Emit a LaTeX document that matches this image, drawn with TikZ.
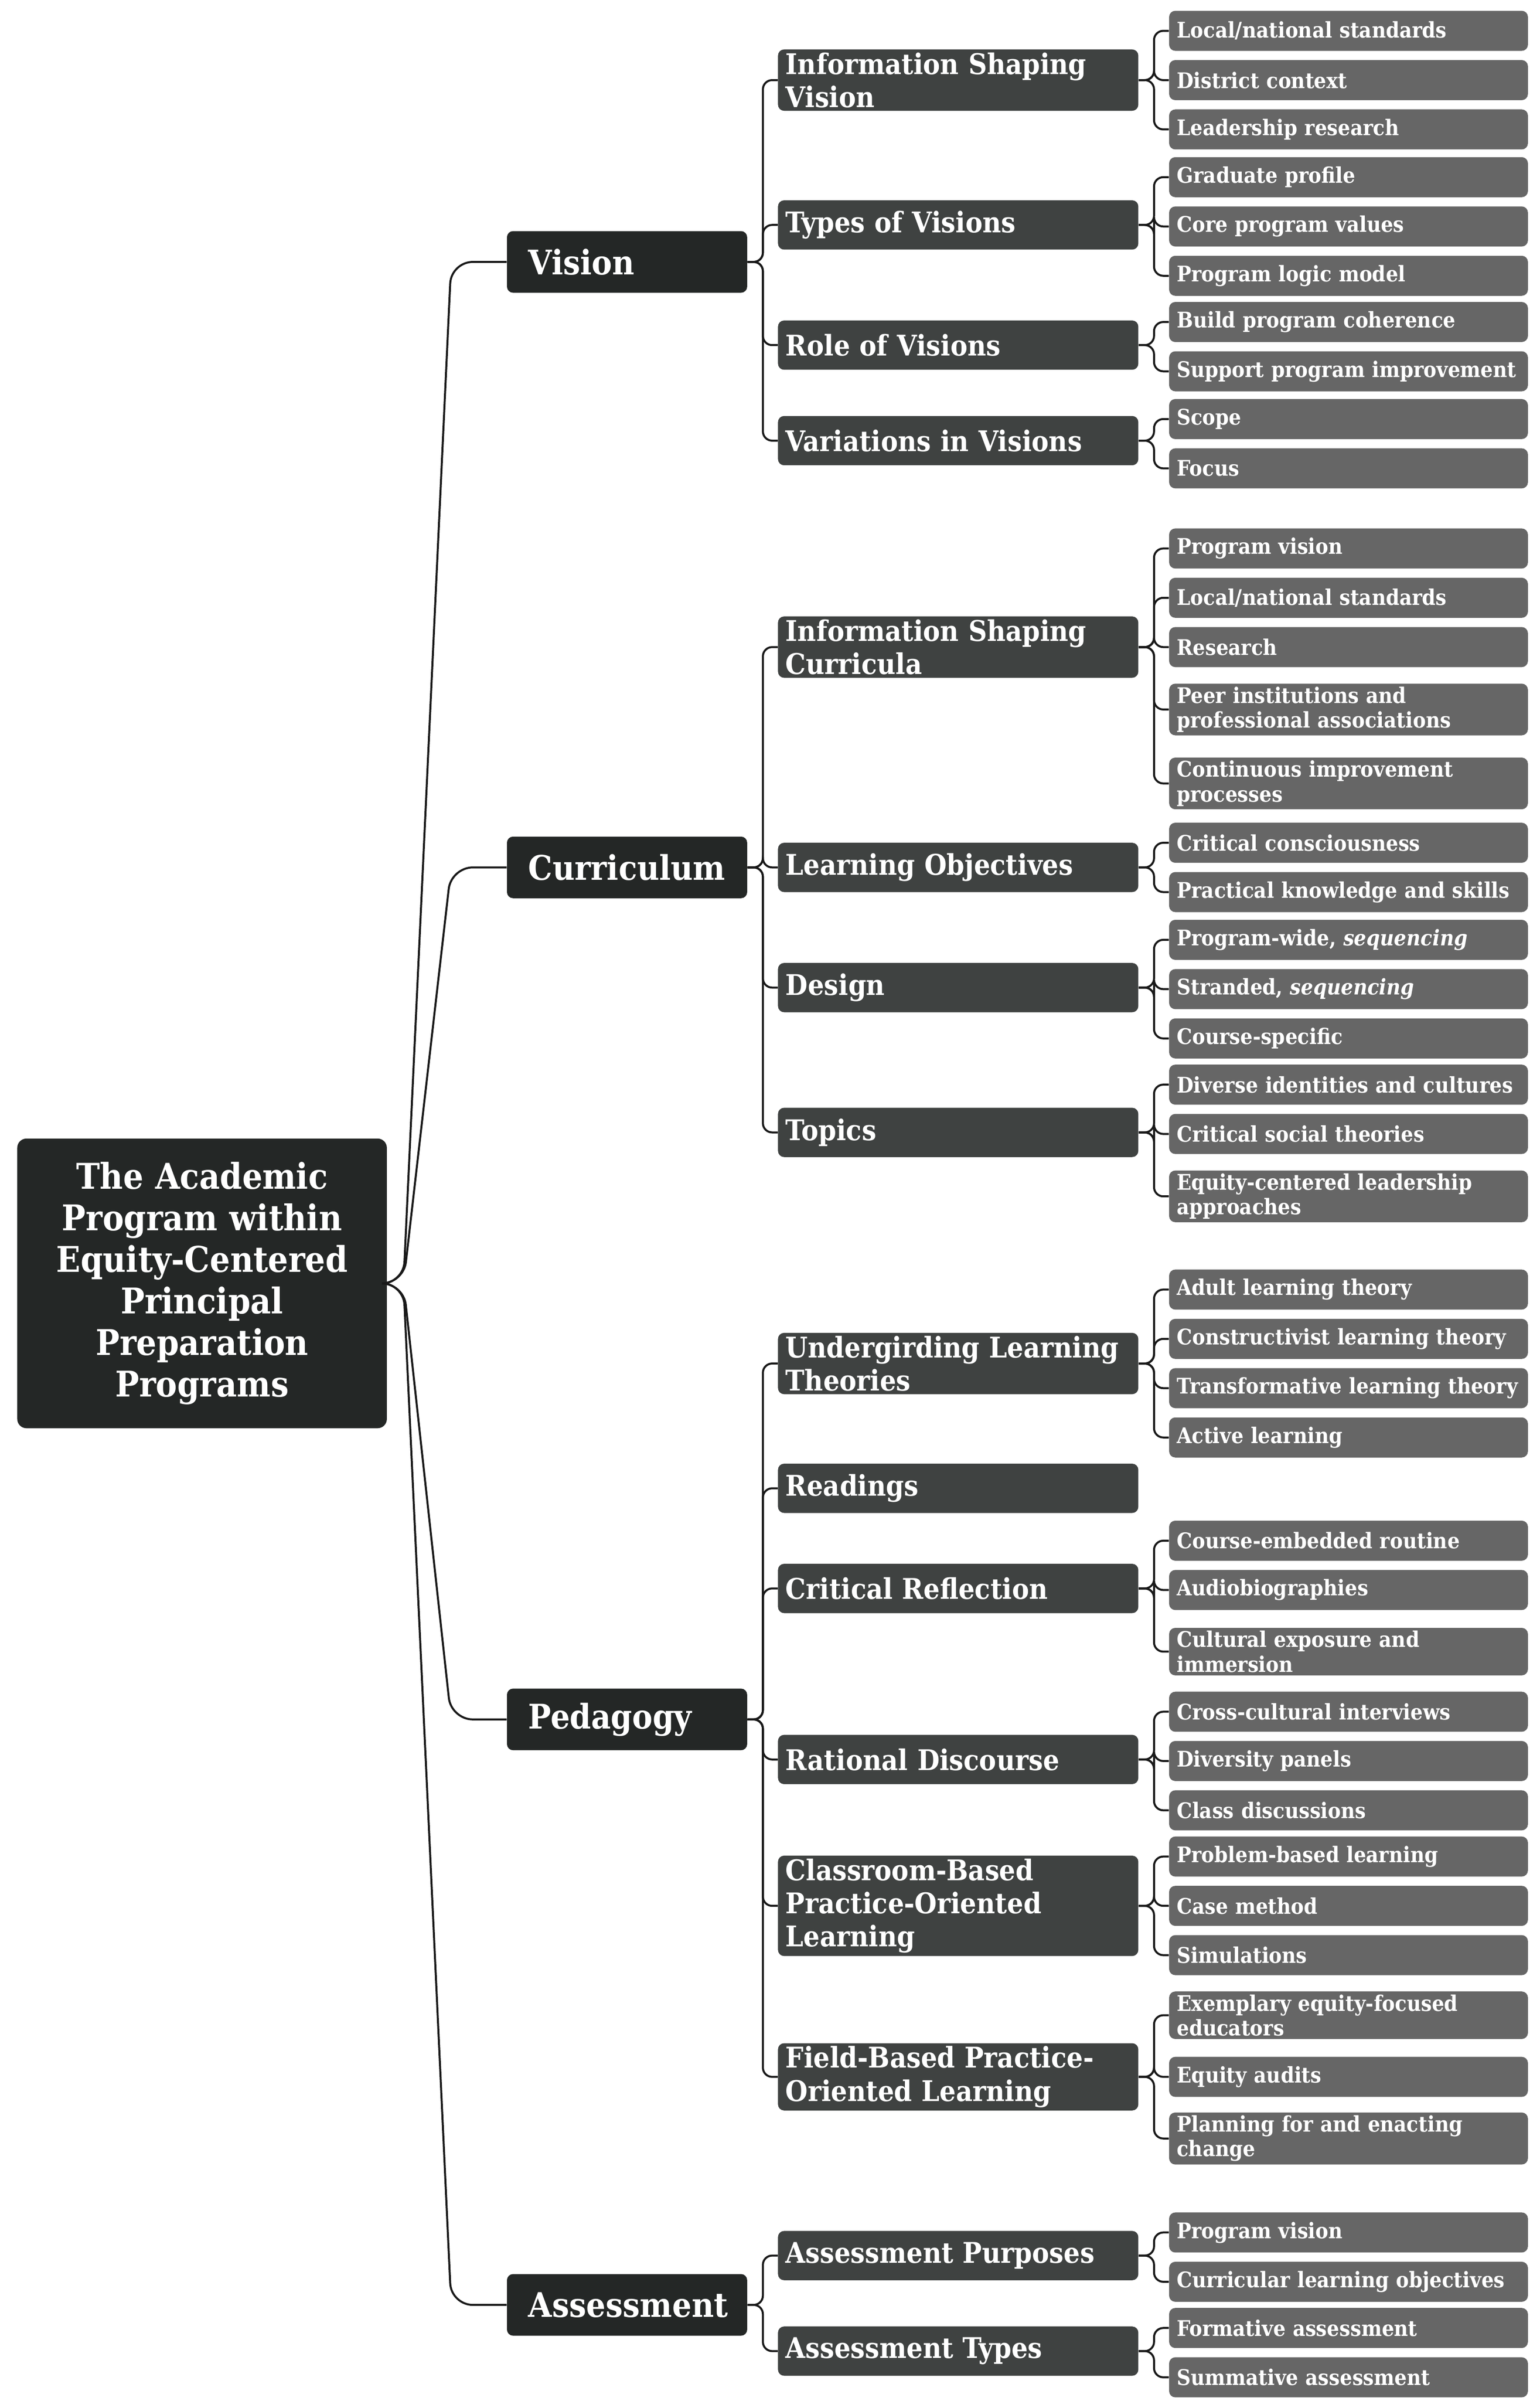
\documentclass[tikz,border=0pt]{standalone}
\usepackage{fontspec}
\setmainfont{DejaVu Serif Condensed}
\definecolor{cA}{HTML}{242726}
\definecolor{cB}{HTML}{3F4241}
\definecolor{cC}{HTML}{666666}
\begin{document}
\begin{tikzpicture}[x=1pt,y=-1pt,
 base/.style={text=white,font=\bfseries,rounded corners=4pt,inner xsep=5pt,inner ysep=2pt,align=left},
 root/.style={base,fill=cA,minimum width=240pt,minimum height=188pt,text width=230pt,align=center,font=\bfseries\fontsize{23}{27}\selectfont,anchor=west,rounded corners=6pt},
 lone/.style={base,fill=cA,minimum height=40pt,inner xsep=14pt,text width=128pt,font=\bfseries\fontsize{22}{26}\selectfont,anchor=west,minimum width=156pt},
 ltwo/.style={base,fill=cB,minimum height=32pt,minimum width=234pt,text width=224pt,font=\bfseries\fontsize{18.5}{21.5}\selectfont,anchor=west},
 leaf/.style={base,fill=cC,minimum height=26pt,minimum width=233pt,text width=223pt,font=\bfseries\fontsize{14}{16}\selectfont,anchor=west},
 conn/.style={draw=black!90,line width=1.3pt},
]
\useasboundingbox (0,0) rectangle (1000,1558.4);
\newcommand\Lt[3]{\node[ltwo] (#1) at (505,#2) {#3};}
\newcommand\Lf[3]{\node[leaf] (#1) at (759,#2) {#3};}
\newcommand\Ct[2]{\draw[conn,rounded corners=6pt] (#1.east) -- ++(10,0) |- (#2.west);}

\node[root] (root) at (11,833) {The Academic\\Program within\\Equity-Centered\\Principal\\Preparation\\Programs};

\node[lone] (vis) at (329,170) {Vision};
\node[lone] (cur) at (329,563) {Curriculum};
\node[lone] (ped) at (329,1116) {Pedagogy};
\node[lone] (ass) at (329,1496) {Assessment};
\foreach \n/\y in {vis/170,cur/563,ped/1116,ass/1496}
  {\draw[conn,rounded corners=14pt] (root.east) -- (262,833) -- (293,\y) -- (\n.west);}

% Vision
\Lt{isv}{52}{Information Shaping\\Vision}
\Lt{tov}{146}{Types of Visions}
\Lt{rov}{224}{Role of Visions}
\Lt{viv}{286}{Variations in Visions}
\foreach \c in {isv,tov,rov,viv} {\Ct{vis}{\c}}
\Lf{a1}{20}{Local/national standards}
\Lf{a2}{52}{District context}
\Lf{a3}{84}{Leadership research}
\foreach \c in {a1,a2,a3} {\Ct{isv}{\c}}
\Lf{b1}{115}{Graduate profile}
\Lf{b2}{147}{Core program values}
\Lf{b3}{179}{Program logic model}
\foreach \c in {b1,b2,b3} {\Ct{tov}{\c}}
\Lf{c1}{209}{Build program coherence}
\Lf{c2}{241}{Support program improvement}
\foreach \c in {c1,c2} {\Ct{rov}{\c}}
\Lf{d1}{272}{Scope}
\Lf{d2}{304}{Focus}
\foreach \c in {d1,d2} {\Ct{viv}{\c}}

% Curriculum
\Lt{isc}{420}{Information Shaping\\Curricula}
\Lt{lob}{563}{Learning Objectives}
\Lt{des}{641}{Design}
\Lt{top}{735}{Topics}
\foreach \c in {isc,lob,des,top} {\Ct{cur}{\c}}
\Lf{e1}{356}{Program vision}
\Lf{e2}{388}{Local/national standards}
\Lf{e3}{420}{Research}
\Lf{e4}{460.5}{Peer institutions and\\professional associations}
\Lf{e5}{508.5}{Continuous improvement\\processes}
\foreach \c in {e1,e2,e3,e4,e5} {\Ct{isc}{\c}}
\Lf{f1}{547}{Critical consciousness}
\Lf{f2}{579}{Practical knowledge and skills}
\foreach \c in {f1,f2} {\Ct{lob}{\c}}
\Lf{g1}{610}{Program-wide, \textit{sequencing}}
\Lf{g2}{642}{Stranded, \textit{sequencing}}
\Lf{g3}{674}{Course-specific}
\foreach \c in {g1,g2,g3} {\Ct{des}{\c}}
\Lf{h1}{704}{Diverse identities and cultures}
\Lf{h2}{736}{Critical social theories}
\Lf{h3}{776.5}{Equity-centered leadership\\approaches}
\foreach \c in {h1,h2,h3} {\Ct{top}{\c}}

% Pedagogy
\Lt{ult}{885}{Undergirding Learning\\Theories}
\Lt{rea}{966}{Readings}
\Lt{crr}{1031}{Critical Reflection}
\Lt{rad}{1142}{Rational Discourse}
\Lt{cbp}{1237}{Classroom-Based\\Practice-Oriented\\Learning}
\Lt{fbp}{1348}{Field-Based Practice-\\Oriented Learning}
\foreach \c in {ult,rea,crr,rad,cbp,fbp} {\Ct{ped}{\c}}
\Lf{i1}{837}{Adult learning theory}
\Lf{i2}{869}{Constructivist learning theory}
\Lf{i3}{901}{Transformative learning theory}
\Lf{i4}{933}{Active learning}
\foreach \c in {i1,i2,i3,i4} {\Ct{ult}{\c}}
\Lf{j1}{1000}{Course-embedded routine}
\Lf{j2}{1032}{Audiobiographies}
\Lf{j3}{1072}{Cultural exposure and\\immersion}
\foreach \c in {j1,j2,j3} {\Ct{crr}{\c}}
\Lf{k1}{1111}{Cross-cultural interviews}
\Lf{k2}{1143}{Diversity panels}
\Lf{k3}{1175}{Class discussions}
\foreach \c in {k1,k2,k3} {\Ct{rad}{\c}}
\Lf{l1}{1205}{Problem-based learning}
\Lf{l2}{1237}{Case method}
\Lf{l3}{1269}{Simulations}
\foreach \c in {l1,l2,l3} {\Ct{cbp}{\c}}
\Lf{m1}{1308}{Exemplary equity-focused\\educators}
\Lf{m2}{1348}{Equity audits}
\Lf{m3}{1388}{Planning for and enacting\\change}
\foreach \c in {m1,m2,m3} {\Ct{fbp}{\c}}

% Assessment
\Lt{apu}{1464}{Assessment Purposes}
\Lt{aty}{1526}{Assessment Types}
\foreach \c in {apu,aty} {\Ct{ass}{\c}}
\Lf{n1}{1449}{Program vision}
\Lf{n2}{1481}{Curricular learning objectives}
\foreach \c in {n1,n2} {\Ct{apu}{\c}}
\Lf{o1}{1511}{Formative assessment}
\Lf{o2}{1543}{Summative assessment}
\foreach \c in {o1,o2} {\Ct{aty}{\c}}
\end{tikzpicture}
\end{document}
